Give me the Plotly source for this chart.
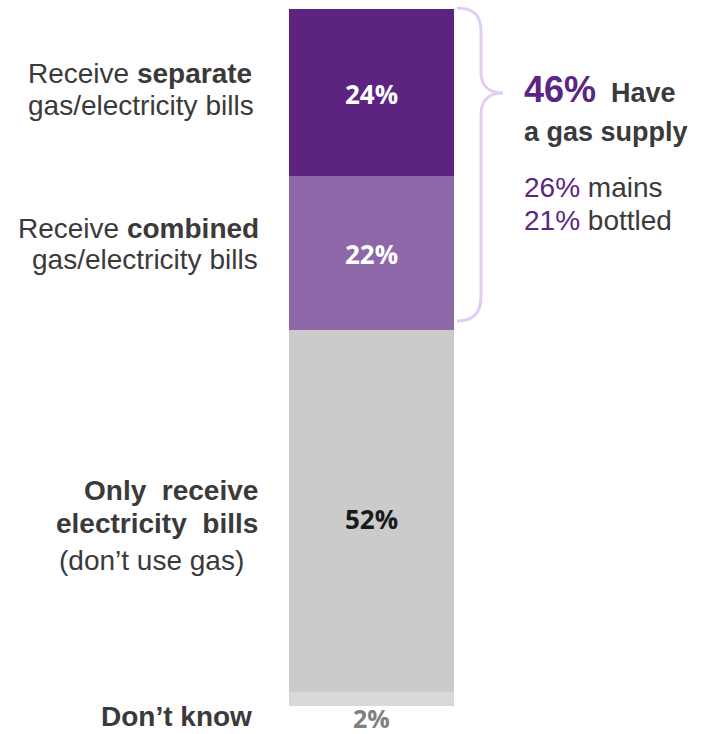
import plotly.graph_objects as go

# Survey shares (%), listed from the bottom of the stacked bar to the top
segments = ["Don't know", "Only receive electricity bills", "Receive combined bills", "Receive separate bills"]
shares = [2, 52, 22, 24]
seg_colors = ["#D9D9D9", "#CBCBCB", "#8D67A7", "#5C2380"]
label_colors = ["#808080", "#1A1A1A", "#FFFFFF", "#FFFFFF"]

# Breakdown of the gas supply type (%)
supply_types = ["mains", "bottled"]
supply_shares = [26, 21]

W, H = 702, 734
PURPLE = "#5C2483"
GREY_TXT = "#3A3A3A"
SANS = "Liberation Sans, Arial, sans-serif"

fig = go.Figure()
for name, val, col in zip(segments, shares, seg_colors):
    fig.add_trace(go.Bar(x=[0], y=[val], name=name, marker=dict(color=col, line=dict(width=0)),
                         width=1, hoverinfo="skip", showlegend=False))


def px(x):
    return x / W


def py(y):
    return 1 - y / H


ann = []

# value labels centred in each bar segment (the smallest sits just below the bar)
cum = 0
for i, (val, col) in enumerate(zip(shares, label_colors)):
    mid = cum + val / 2
    if i == 0:
        ann.append(dict(x=0, y=cum, xref="x", yref="y", text=f"<b>{val}%</b>", showarrow=False,
                        xanchor="center", yanchor="middle", yshift=-12,
                        font=dict(family="Open Sans, sans-serif", size=25, color=col)))
    else:
        ann.append(dict(x=0, y=mid, xref="x", yref="y", text=f"<b>{val}%</b>", showarrow=False,
                        xanchor="center", yanchor="middle", yshift=(-8 if i == 1 else -1),
                        font=dict(family="Open Sans, sans-serif", size=26, color=col)))
    cum += val


def line(text, x, baseline, anchor, size=28, color=GREY_TXT):
    ann.append(dict(x=px(x), y=py(baseline - 0.347 * size), xref="paper", yref="paper", text=text,
                    showarrow=False, xanchor=anchor, yanchor="middle",
                    font=dict(family=SANS, size=size, color=color)))


# category labels on the left
line("Receive <b>separate</b>", 26, 83, "left")
line("gas/electricity bills", 26, 115, "left")
line("Receive <b>combined</b>", 261, 238, "right")
line("gas/electricity bills", 260, 269, "right")
line("<b>Only  receive</b>", 260, 500, "right")
line("<b>electricity  bills</b>", 260, 533, "right")
line("(don’t use gas)", 57, 570, "left")
line("<b>Don’t know</b>", 254, 726, "right")

# gas supply summary on the right
gas_total = shares[2] + shares[3]
line(f"<b>{gas_total}%</b>", 522, 102, "left", size=36, color=PURPLE)
line("<b>Have</b>", 609, 102, "left", size=27)
line("<b>a gas supply</b>", 522, 141, "left", size=27)
for j, (t, v) in enumerate(zip(supply_types, supply_shares)):
    line(f"<span style='color:{PURPLE}'>{v}%</span> {t}", 522, 197 + 33 * j, "left", size=28)

# curly brace grouping the two gas segments
pts = "M 457,8 C 473,8 481,15 481,31 L 481,72 C 481,86 489,93 503,93 " \
      "C 489,93 481,100 481,114 L 481,297 C 481,313 473,321 457,321"


def to_paper(path):
    out = []
    for tok in path.split():
        if "," in tok:
            a, b = tok.split(",")
            out.append(f"{px(float(a)):.5f},{py(float(b)):.5f}")
        else:
            out.append(tok)
    return " ".join(out)


shapes = [dict(type="path", path=to_paper(pts), xref="paper", yref="paper",
               line=dict(color="#E2CCF2", width=3))]

# axes mapped so the bar spans its column of the page
bar_left, bar_right, bar_top, bar_bottom = 289, 454, 9, 706
bw = bar_right - bar_left
cx = (bar_left + bar_right) / 2
scale = (bar_bottom - bar_top) / sum(shares)

fig.update_layout(
    barmode="stack",
    width=W, height=H,
    margin=dict(l=0, r=0, t=0, b=0),
    paper_bgcolor="white", plot_bgcolor="white",
    xaxis=dict(range=[-cx / bw, (W - cx) / bw], visible=False, fixedrange=True),
    yaxis=dict(range=[-(H - bar_bottom) / scale, sum(shares) + bar_top / scale],
               visible=False, fixedrange=True),
    bargap=0,
    annotations=ann,
    shapes=shapes,
)

fig.write_html("out.html")
